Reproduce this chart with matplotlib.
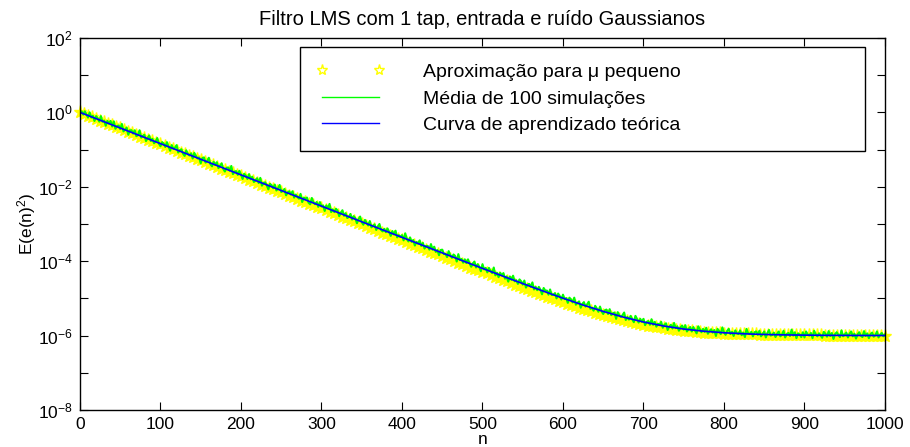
import numpy as np
import matplotlib
matplotlib.use('Agg')
import matplotlib.pyplot as plt

plt.rcParams['font.family'] = ['Liberation Sans', 'DejaVu Sans']
plt.rcParams['mathtext.fontset'] = 'custom'
plt.rcParams['mathtext.rm'] = 'Liberation Sans'
plt.rcParams['mathtext.it'] = 'Liberation Sans:italic'

##------------------------------------------
# learning curves, stored as log10 of E(e(n)^2)
n_theory = np.arange(0, 1001, 25)
log_theory = [0.000, -0.210, -0.420, -0.630, -0.840, -1.050, -1.260, -1.470, -1.680,
              -1.890, -2.100, -2.310, -2.520, -2.730, -2.940, -3.150, -3.359, -3.568,
              -3.777, -3.986, -4.193, -4.399, -4.602, -4.801, -4.995, -5.179, -5.350,
              -5.503, -5.635, -5.742, -5.824, -5.883, -5.924, -5.952, -5.970, -5.981,
              -5.988, -5.993, -5.995, -5.997, -5.998]

# mean of 100 runs, every 2nd sample
n_sim = np.arange(0, 1001, 2)
log_sim = [
    0.00, 0.03, -0.06, 0.03, -0.06, -0.14, 0.00, -0.14, -0.09, -0.23,
    -0.10, -0.16, -0.25, -0.10, -0.25, -0.22, -0.36, -0.23, -0.30, -0.23,
    -0.38, -0.24, -0.44, -0.37, -0.35, -0.45, -0.31, -0.51, -0.46, -0.41,
    -0.60, -0.48, -0.48, -0.57, -0.48, -0.64, -0.61, -0.48, -0.68, -0.63,
    -0.60, -0.77, -0.69, -0.62, -0.77, -0.71, -0.83, -0.78, -0.69, -0.84,
    -0.91, -0.80, -0.84, -0.93, -0.80, -0.92, -1.03, -0.88, -0.98, -0.95,
    -0.88, -1.08, -1.02, -0.99, -1.11, -1.17, -1.02, -1.12, -1.16, -1.10,
    -1.24, -1.09, -1.17, -1.24, -1.21, -1.37, -1.23, -1.21, -1.35, -1.31,
    -1.22, -1.39, -1.45, -1.33, -1.41, -1.34, -1.50, -1.43, -1.37, -1.52,
    -1.59, -1.49, -1.48, -1.57, -1.44, -1.66, -1.59, -1.58, -1.68, -1.57,
    -1.67, -1.79, -1.65, -1.70, -1.79, -1.66, -1.80, -1.73, -1.87, -1.83,
    -1.77, -1.90, -1.76, -1.97, -1.90, -1.88, -1.96, -2.07, -1.92, -1.96,
    -2.04, -1.94, -2.10, -2.04, -1.95, -2.14, -2.11, -2.06, -2.23, -2.15,
    -2.12, -2.21, -2.12, -2.29, -2.21, -2.27, -2.32, -2.19, -2.41, -2.29,
    -2.32, -2.29, -2.43, -2.47, -2.30, -2.42, -2.47, -2.41, -2.54, -2.41,
    -2.53, -2.50, -2.65, -2.50, -2.58, -2.46, -2.68, -2.61, -2.68, -2.59,
    -2.64, -2.79, -2.70, -2.63, -2.78, -2.71, -2.84, -2.81, -2.73, -2.88,
    -2.79, -2.84, -2.98, -2.87, -2.80, -2.95, -3.02, -2.89, -2.97, -3.04,
    -2.92, -3.09, -3.05, -3.01, -3.16, -3.07, -3.00, -3.16, -3.20, -3.13,
    -3.22, -3.12, -3.21, -3.32, -3.19, -3.28, -3.18, -3.36, -3.30, -3.35,
    -3.30, -3.44, -3.25, -3.40, -3.47, -3.36, -3.48, -3.43, -3.58, -3.48,
    -3.53, -3.44, -3.59, -3.51, -3.66, -3.59, -3.59, -3.69, -3.54, -3.69,
    -3.61, -3.75, -3.70, -3.84, -3.70, -3.69, -3.81, -3.80, -3.89, -3.73,
    -3.84, -3.91, -3.82, -3.86, -4.01, -3.81, -3.97, -3.94, -4.04, -3.95,
    -4.05, -3.95, -4.06, -4.15, -4.06, -4.01, -4.17, -4.08, -4.15, -4.27,
    -4.08, -4.22, -4.18, -4.30, -4.18, -4.26, -4.32, -4.17, -4.38, -4.31,
    -4.43, -4.31, -4.38, -4.32, -4.47, -4.41, -4.55, -4.41, -4.50, -4.39,
    -4.54, -4.51, -4.61, -4.49, -4.54, -4.63, -4.52, -4.71, -4.63, -4.61,
    -4.69, -4.57, -4.76, -4.69, -4.78, -4.69, -4.77, -4.89, -4.72, -4.79,
    -4.79, -4.90, -4.76, -4.91, -4.90, -4.86, -5.00, -4.87, -4.94, -5.03,
    -4.90, -5.02, -4.99, -5.12, -4.98, -5.03, -5.11, -4.98, -5.17, -5.12,
    -5.08, -5.25, -5.15, -5.10, -5.22, -5.16, -5.09, -5.28, -5.25, -5.33,
    -5.20, -5.27, -5.36, -5.22, -5.35, -5.42, -5.32, -5.30, -5.42, -5.29,
    -5.45, -5.40, -5.38, -5.55, -5.37, -5.46, -5.50, -5.45, -5.38, -5.58,
    -5.50, -5.57, -5.47, -5.56, -5.64, -5.47, -5.55, -5.65, -5.55, -5.63,
    -5.55, -5.72, -5.63, -5.61, -5.71, -5.56, -5.71, -5.63, -5.76, -5.68,
    -5.72, -5.63, -5.79, -5.71, -5.67, -5.85, -5.76, -5.71, -5.81, -5.66,
    -5.80, -5.75, -5.87, -5.78, -5.73, -5.84, -5.72, -5.89, -5.82, -5.77,
    -5.89, -5.77, -5.86, -5.94, -5.75, -5.83, -5.91, -5.82, -5.90, -5.79,
    -5.95, -5.88, -5.83, -5.92, -5.85, -6.01, -5.82, -5.88, -5.96, -5.78,
    -5.91, -5.98, -5.87, -5.82, -5.96, -5.90, -6.01, -5.86, -5.94, -5.96,
    -5.86, -5.99, -5.92, -6.04, -5.82, -5.94, -5.96, -5.90, -6.02, -5.91,
    -5.89, -5.98, -5.87, -6.02, -5.96, -5.89, -6.05, -5.93, -5.85, -6.00,
    -5.98, -5.92, -6.04, -5.95, -5.89, -6.02, -5.98, -5.87, -6.05, -5.96,
    -5.93, -6.01, -5.84, -6.00, -5.91, -6.07, -5.94, -5.97, -6.04, -5.91,
    -6.05, -5.89, -5.97, -6.00, -5.93, -6.07, -5.87, -5.96, -6.02, -5.94,
    -5.99, -6.06, -5.90, -5.95, -6.03, -5.88, -6.01, -5.93, -6.09, -5.96,
    -5.91, -5.98, -6.04, -5.86, -6.02, -5.97, -5.92, -6.05, -5.95, -5.89,
    -6.02, -5.95, -6.08, -5.97, -5.91, -6.00, -6.04, -5.88, -6.01, -5.94,
    -6.07, -5.96, -5.92, -6.03, -5.99, -5.89, -6.05, -5.98, -5.93, -6.02,
    -5.97]

# small step-size approximation, every 5th sample
n_approx = np.arange(0, 1001, 5)
log_approx = [0.00, -0.04, -0.09, -0.13, -0.17, -0.22, -0.26, -0.30, -0.34, -0.39,
              -0.43, -0.47, -0.52, -0.56, -0.60, -0.65, -0.69, -0.73, -0.77, -0.82,
              -0.86, -0.90, -0.95, -0.99, -1.03, -1.08, -1.12, -1.16, -1.20, -1.25,
              -1.29, -1.33, -1.38, -1.42, -1.46, -1.51, -1.55, -1.59, -1.63, -1.68,
              -1.72, -1.76, -1.81, -1.85, -1.89, -1.94, -1.98, -2.02, -2.06, -2.11,
              -2.15, -2.19, -2.24, -2.28, -2.32, -2.37, -2.41, -2.45, -2.49, -2.54,
              -2.58, -2.62, -2.67, -2.71, -2.75, -2.80, -2.84, -2.88, -2.92, -2.97,
              -3.01, -3.05, -3.10, -3.14, -3.18, -3.23, -3.27, -3.31, -3.35, -3.40,
              -3.44, -3.48, -3.53, -3.57, -3.61, -3.65, -3.70, -3.74, -3.78, -3.82,
              -3.87, -3.91, -3.95, -4.00, -4.04, -4.08, -4.12, -4.17, -4.21, -4.25,
              -4.29, -4.33, -4.38, -4.42, -4.46, -4.50, -4.54, -4.58, -4.63, -4.67,
              -4.71, -4.75, -4.79, -4.83, -4.87, -4.91, -4.95, -4.99, -5.02, -5.06,
              -5.10, -5.14, -5.17, -5.21, -5.25, -5.28, -5.32, -5.35, -5.38, -5.41,
              -5.45, -5.48, -5.51, -5.53, -5.56, -5.59, -5.62, -5.64, -5.66, -5.69,
              -5.71, -5.73, -5.75, -5.76, -5.78, -5.80, -5.81, -5.83, -5.84, -5.86,
              -5.87, -5.88, -5.89, -5.90, -5.91, -5.92, -5.92, -5.93, -5.93, -5.94,
              -5.95, -5.95, -5.95, -5.96, -5.96, -5.97, -5.97, -5.97, -5.97, -5.98,
              -5.98, -5.98, -5.98, -5.98, -5.99, -5.99, -5.99, -5.99, -5.99, -5.99,
              -5.99, -5.99, -5.99, -5.99, -5.99, -6.00, -6.00, -6.00, -6.00, -6.00,
              -6.00, -6.00, -6.00, -6.00, -6.00, -6.00, -6.00, -6.00, -6.00, -6.00,
              -6.00]

names = ['Aproximação para μ pequeno', 'Média de 100 simulações',
         'Curva de aprendizado teórica']
FS = 12.5      # tick labels
FS_LEG = 14    # legend

#------------------------------------------------------------
fig = plt.figure(figsize=(9.1, 4.47), dpi=100)
ax = fig.add_axes([0.0879, 0.0828, 0.8846, 0.8322])

ax.semilogy(n_approx, 10 ** np.array(log_approx), linestyle='', marker='*',
            markersize=9.5, markerfacecolor='#ffff00', markeredgecolor='#ffff00',
            markeredgewidth=1.0, clip_on=False, label=names[0])
ax.semilogy(n_sim, 10 ** np.array(log_sim), color='#00ff00', lw=1.5, label=names[1])
ax.semilogy(n_theory, 10 ** np.array(log_theory), color='#0000ff', lw=1.2, label=names[2])

ax.set_xlim(0, 1000)
ax.set_ylim(1e-8, 1e2)
ax.set_xticks(np.arange(0, 1001, 100))
ax.set_xticklabels([str(v) for v in range(0, 1001, 100)])
decades = np.arange(-8, 3)
ax.set_yticks(10.0 ** decades)
ax.set_yticklabels([r'$10^{%d}$' % d if d % 2 == 0 else '' for d in decades])
ax.minorticks_off()
ax.tick_params(direction='in', length=5.5, width=0.8, top=True, right=True,
               labelsize=FS, pad=5)
for sp in ax.spines.values():
    sp.set_linewidth(1.0)

ax.set_title('Filtro LMS com 1 tap, entrada e ruído Gaussianos', fontsize=14.5, pad=9)
ax.set_xlabel('n', fontsize=FS, labelpad=0)
ax.set_ylabel(r'E(e(n)$^2$)', fontsize=FS, labelpad=0)

leg = ax.legend(loc='upper left', bbox_to_anchor=(0.273, 0.976, 0.702, 0.0),
                mode='expand', borderaxespad=0, numpoints=2, fontsize=FS_LEG,
                handlelength=3.5, handletextpad=2.0, labelspacing=0.46,
                borderpad=0.85, fancybox=False, framealpha=1, edgecolor='black')
leg.get_frame().set_linewidth(1.0)
# hollow stars and thin lines in the legend entries
star = leg.legend_handles[0]
star.set_markerfacecolor('none')
star.set_markersize(8)
leg.legend_handles[1].set_linewidth(1.0)
leg.legend_handles[2].set_linewidth(1.0)

fig.savefig('out.png', dpi=100)
